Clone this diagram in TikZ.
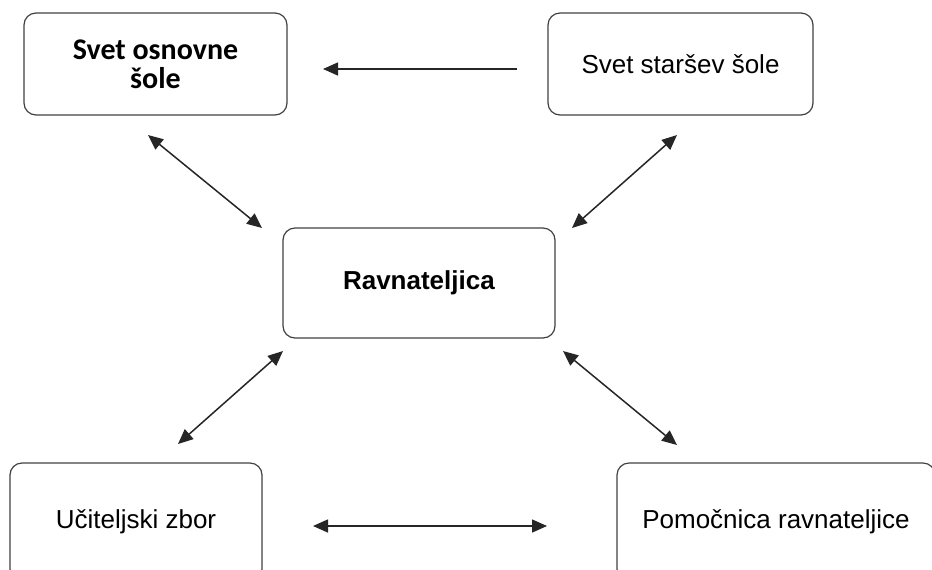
\documentclass[tikz,border=0pt]{standalone}
\usepackage{fontspec}
\setmainfont{Liberation Sans}
\newfontfamily\calib{Carlito}
\usetikzlibrary{arrows.meta}

\begin{document}
\begin{tikzpicture}[x=0.5pt,y=-0.5pt]
	\tikzstyle{sharp} = [-{Triangle[length=7.5pt,width=6.5pt]}, line width=0.75pt, black!85]
	\tikzstyle{both} = [{Triangle[length=7.5pt,width=6.5pt]}-{Triangle[length=7.5pt,width=6.5pt]}, line width=0.75pt, black!85]
	\tikzstyle{box} = [draw=black!75, line width=0.6pt, rectangle, rounded corners=6pt, align=center, inner sep=0pt, font=\fontsize{13}{15}\selectfont]
	\useasboundingbox (0,0) rectangle (932,569);
	\node (svetos) [box,minimum width=131.5pt,minimum height=51pt,font=\calib\bfseries\fontsize{15}{14.5}\selectfont] at (155.5,64) {Svet osnovne\\šole};
	\node (svetst) [box,minimum width=132.5pt,minimum height=51pt] at (680.5,64) {Svet staršev šole};
	\node (ravn) [box,minimum width=136pt,minimum height=55pt] at (419,283) {\textbf{Ravnateljica}};
	\node (ucit) [box,minimum width=126pt,minimum height=59pt] at (136,522) {Učiteljski zbor};
	\node (pomoc) [box,minimum width=159pt,minimum height=59pt] at (776,522) {Pomočnica ravnateljice};
	% arrow ends
	\coordinate (top-a) at (517,69);   \coordinate (top-b) at (323,69);
	\coordinate (tl-a) at (148,135);   \coordinate (tl-b) at (262,228);
	\coordinate (tr-a) at (677,135);   \coordinate (tr-b) at (572,228);
	\coordinate (bl-a) at (283,351);   \coordinate (bl-b) at (178,444);
	\coordinate (br-a) at (563,351);   \coordinate (br-b) at (677,445);
	\coordinate (bot-a) at (313,526);  \coordinate (bot-b) at (547,526);
	\draw[sharp] (top-a) -- (top-b);
	\draw[both] (tl-a) -- (tl-b);
	\draw[both] (tr-a) -- (tr-b);
	\draw[both] (bl-a) -- (bl-b);
	\draw[both] (br-a) -- (br-b);
	\draw[both] (bot-a) -- (bot-b);
\end{tikzpicture}
\end{document}
